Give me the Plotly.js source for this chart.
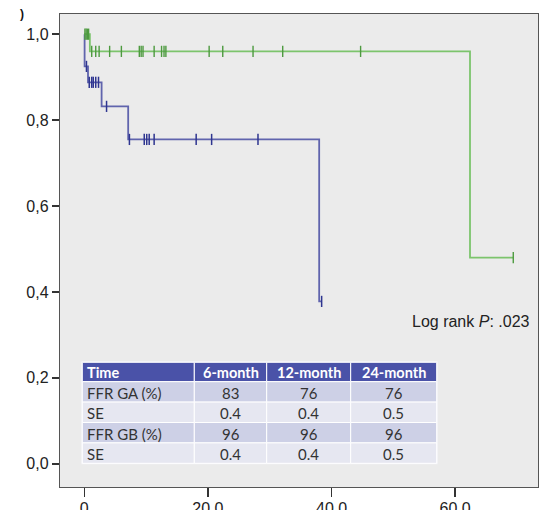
<!DOCTYPE html>
<html>
<head>
<meta charset="utf-8">
<script src="https://cdn.plot.ly/plotly-3.0.1.min.js"></script>
<style>html,body{margin:0;padding:0;background:#fff;}#chart{width:540px;height:510px;}</style>
</head>
<body>
<div id="chart"></div>
<script>
// Kaplan-Meier step curves (time in months, cumulative survival)
var gaTimes = [0, 0.05, 0.6, 2.8, 7.1, 38.0, 38.4];
var gaSurv  = [1.0, 0.925, 0.888, 0.832, 0.755, 0.378, 0.378];
var gaCensor = [0.35, 0.8, 1.2, 1.45, 1.85, 2.3, 3.6, 7.3, 9.7, 10.1, 10.5, 11.3, 18.1, 20.6, 28.1, 38.4];

var gbTimes = [0, 0.9, 62.4, 69.4];
var gbSurv  = [1.0, 0.96, 0.48, 0.48];
var gbCensor = [0.1, 0.3, 0.5, 0.7, 1.2, 1.85, 2.4, 4.1, 6.0, 8.9, 9.2, 9.5, 11.3, 12.5, 12.9, 13.2, 20.2, 22.4, 27.3, 32.1, 44.7, 69.4];

// axis ticks
var xTickVals = [0, 20, 40, 60];
var xTickText = ['0', '20.0', '40.0', '60.0'];
var yTickVals = [0, 0.2, 0.4, 0.6, 0.8, 1.0];
var yTickText = ['0,0', '0,2', '0,4', '0,6', '0,8', '1,0'];

// inset table
var tableHeader = ['Time', '6-month', '12-month', '24-month'];
var tableRows = ['FFR GA (%)', 'SE', 'FFR GB (%)', 'SE'];
var col6 = ['83', '0.4', '96', '0.4'];
var col12 = ['76', '0.4', '96', '0.4'];
var col24 = ['76', '0.5', '96', '0.5'];

var pText = 'Log rank <i>P</i>: .023';

function survAt(times, surv, t) {
  var s = surv[0];
  for (var i = 0; i < times.length; i++) { if (times[i] <= t) s = surv[i]; }
  return s;
}

var blueLine = '#6064ad', blueMark = '#2e3590';
var greenLine = '#7cc46c', greenMark = '#4d9a3f';

var traces = [
  {x: gaTimes, y: gaSurv, type: 'scatter', mode: 'lines', line: {shape: 'hv', color: blueLine, width: 1.8}, hoverinfo: 'skip', showlegend: false},
  {x: gbTimes, y: gbSurv, type: 'scatter', mode: 'lines', line: {shape: 'hv', color: greenLine, width: 1.8}, hoverinfo: 'skip', showlegend: false},
  {x: gaCensor, y: gaCensor.map(function(t){return survAt(gaTimes, gaSurv, t);}), type: 'scatter', mode: 'markers',
   marker: {symbol: 'line-ns-open', size: 8, color: blueMark, line: {color: blueMark, width: 1.5}}, showlegend: false, hoverinfo: 'skip'},
  {x: gbCensor, y: gbCensor.map(function(t){return survAt(gbTimes, gbSurv, t);}), type: 'scatter', mode: 'markers',
   marker: {symbol: 'line-ns-open', size: 8, color: greenMark, line: {color: greenMark, width: 1.4}}, showlegend: false, hoverinfo: 'skip'}
];

// table geometry (in pixels of the figure), converted to paper coordinates
var plotL = 60, plotR = 538, plotT = 14, plotB = 487;
function px2x(p){ return (p - plotL) / (plotR - plotL); }
function px2y(p){ return (plotB - p) / (plotB - plotT); }
var tblLeft = 82.3, tblTop = 362.3;
var colW = [112, 72.4, 84, 86];
var headH = 19.4, rowH = 20.4;
var rowFill = ['#cdd0e6', '#e6e7f1', '#cdd0e6', '#e6e7f1'];
var columns = [tableRows, col6, col12, col24];

var shapes = [];
var annotations = [
  {xref: 'paper', yref: 'paper', x: 0.987, y: 0.3495, xanchor: 'right', yanchor: 'middle',
   text: pText, showarrow: false, font: {size: 16, color: '#222'}},
  {xref: 'paper', yref: 'paper', x: -0.0795, y: 1.0, xanchor: 'center', yanchor: 'middle',
   text: '<b>)</b>', showarrow: false, font: {size: 12, color: '#111'}}
];

// outer light border of the table
var totalW = colW.reduce(function(a,b){return a+b;}, 0);
shapes.push({type: 'rect', xref: 'paper', yref: 'paper', layer: 'above',
  x0: px2x(tblLeft - 1), x1: px2x(tblLeft + totalW + 1), y0: px2y(tblTop + headH + 4*rowH + 1), y1: px2y(tblTop - 1),
  fillcolor: '#f4f4f8', line: {width: 0}});

var cx = tblLeft;
for (var c = 0; c < colW.length; c++) {
  var x0 = cx, x1 = cx + colW[c];
  // header cell
  shapes.push({type: 'rect', xref: 'paper', yref: 'paper', layer: 'above',
    x0: px2x(x0), x1: px2x(x1), y0: px2y(tblTop + headH), y1: px2y(tblTop),
    fillcolor: '#4a52a8', line: {color: '#ffffff', width: 1}});
  annotations.push({xref: 'paper', yref: 'paper', showarrow: false,
    x: c === 0 ? px2x(x0 + 3) : px2x((x0 + x1) / 2), xanchor: c === 0 ? 'left' : 'center',
    y: px2y(tblTop + headH / 2), yanchor: 'middle',
    text: '<b>' + tableHeader[c] + '</b>', font: {family: 'Lato, sans-serif', size: 14.5, color: '#ffffff'}});
  for (var r = 0; r < columns[c].length; r++) {
    var yTop = tblTop + headH + r * rowH;
    shapes.push({type: 'rect', xref: 'paper', yref: 'paper', layer: 'above',
      x0: px2x(x0), x1: px2x(x1), y0: px2y(yTop + rowH), y1: px2y(yTop),
      fillcolor: rowFill[r], line: {color: '#ffffff', width: 1}});
    annotations.push({xref: 'paper', yref: 'paper', showarrow: false,
      x: c === 0 ? px2x(x0 + 3) : px2x((x0 + x1) / 2), xanchor: c === 0 ? 'left' : 'center',
      y: px2y(yTop + rowH / 2 + 1), yanchor: 'middle',
      text: columns[c][r], font: {family: 'Lato, sans-serif', size: 15, color: '#333333'}});
  }
  cx = x1;
}

var layout = {
  width: 540, height: 510,
  margin: {l: 60, r: 2, t: 14, b: 23},
  paper_bgcolor: '#ffffff',
  plot_bgcolor: '#ebebeb',
  font: {family: 'Liberation Sans, Arial, sans-serif', color: '#222'},
  xaxis: {
    range: [-3.93, 73.4], tickvals: xTickVals, ticktext: xTickText,
    ticks: 'outside', ticklen: 9, tickwidth: 1.5, tickcolor: '#333',
    showline: true, linecolor: '#555', linewidth: 1.2, mirror: true, ticklabelstandoff: -2,
    showgrid: false, zeroline: false, tickfont: {size: 16, color: '#222'}
  },
  yaxis: {
    range: [-0.054, 1.047], tickvals: yTickVals, ticktext: yTickText,
    ticks: 'outside', ticklen: 7, tickwidth: 1.5, tickcolor: '#333',
    showline: true, linecolor: '#555', linewidth: 1.2, mirror: true,
    showgrid: false, zeroline: false, tickfont: {size: 16, color: '#222'}
  },
  shapes: shapes,
  annotations: annotations
};

Plotly.newPlot('chart', traces, layout, {displayModeBar: false, staticPlot: true});
</script>
</body>
</html>
